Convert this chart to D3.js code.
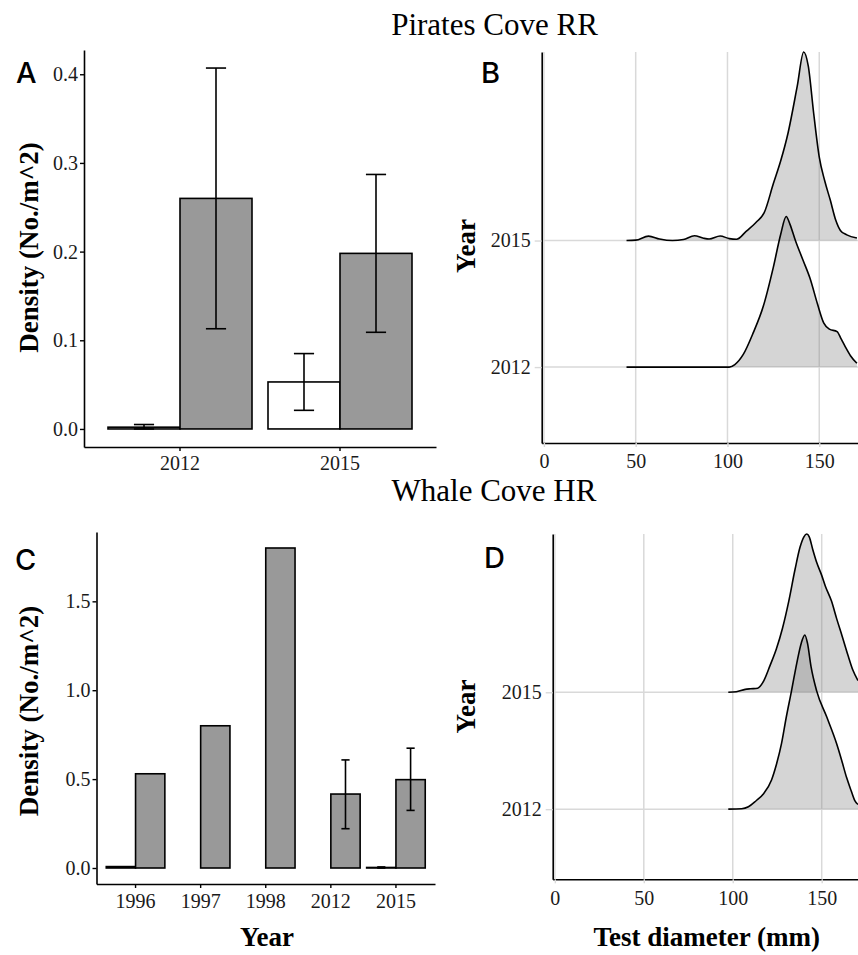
<!DOCTYPE html>
<html>
<head>
<meta charset="utf-8">
<script src="https://d3js.org/d3.v7.min.js"></script>
<style>
  body { margin: 0; background: #fff; }
</style>
</head>
<body>
<div id="placeholder"></div>
<script>
// Pirates Cove RR, densities per year (white = first group, gray = second group)
var yearsA = ["2012", "2015"]
var whiteA = [0.002, 0.053]
var whiteLoA = [0.0, 0.021]
var whiteHiA = [0.005, 0.085]
var grayA = [0.26, 0.198]
var grayLoA = [0.113, 0.109]
var grayHiA = [0.407, 0.287]

// Whale Cove HR
var yearsC = ["1996", "1997", "1998", "2012", "2015"]
var whiteC = [0.008, 0, 0, 0, 0.003]
var whiteLoC = [null, null, null, null, 0]
var whiteHiC = [null, null, null, null, 0.006]
var grayC = [0.53, 0.80, 1.80, 0.416, 0.497]
var grayLoC = [null, null, null, 0.221, 0.324]
var grayHiC = [null, null, null, 0.608, 0.674]

// ridgeline rows and x ticks
var ridgeYears = ["2012", "2015"]
var diamTicks = [0, 50, 100, 150]

// [test diameter (mm), ridge height in row units]
var ridgeB2012 = [[45, 0], [101, 0], [104, 0.02], [108.6, 0.1], [114, 0.27], [119.5, 0.48], [125, 0.79], [129, 1.05],
    [132, 1.19], [134, 1.13], [137, 1.0], [141, 0.85], [145, 0.7], [149, 0.5], [152.4, 0.35], [155.5, 0.3],
    [159.7, 0.28], [162, 0.22], [164.2, 0.16], [167, 0.09], [170.5, 0.03]]
var ridgeB2015 = [[45, 0], [50, 0.003], [57, 0.035], [63, 0.012], [70, 0], [76, 0.008], [82, 0.038], [87, 0.018],
    [90, 0.012], [96, 0.036], [101, 0.015], [105, 0.01], [110, 0.07], [116, 0.15], [120, 0.22], [125, 0.45],
    [129, 0.63], [133, 0.85], [138, 1.22], [141.5, 1.49], [144, 1.38], [147, 1.0], [150, 0.66], [153, 0.47],
    [156, 0.32], [159, 0.16], [161.5, 0.08], [165, 0.045], [170.5, 0.02]]
var ridgeD2012 = [[97.5, 0], [105, 0.003], [108.8, 0.02], [113, 0.07], [117.2, 0.13], [121.8, 0.25], [124.5, 0.38],
    [127.4, 0.56], [130, 0.78], [133, 1.01], [136, 1.25], [138.5, 1.42], [140.5, 1.49], [142, 1.42], [144, 1.22],
    [147.2, 1.01], [152.8, 0.79], [158.4, 0.56], [161, 0.43], [164, 0.27], [166.5, 0.16], [168.7, 0.07], [170.4, 0.04]]
var ridgeD2015 = [[97.5, 0], [102, 0.005], [107, 0.025], [110, 0.03], [114, 0.035], [117.5, 0.1], [121, 0.23],
    [124.5, 0.37], [128, 0.55], [131.5, 0.78], [135, 1.05], [137.8, 1.24], [140, 1.33], [141.6, 1.354], [143, 1.33],
    [145, 1.22], [147.2, 1.11], [150, 1.0], [152, 0.91], [155.5, 0.78], [158.4, 0.63], [161.5, 0.48], [164.9, 0.31],
    [167.5, 0.19], [170.4, 0.1]]

var serif = "'Liberation Serif', 'Times New Roman', serif"

var svg = d3.select("#placeholder")
    .append("svg")
    .attr("width", 858)
    .attr("height", 955)
    .style("display", "block")

function styleAxis(g, tickColor) {
    g.attr("font-family", serif).attr("font-size", 20)
    g.select(".domain").attr("stroke", "#000").attr("stroke-width", 1.6)
    g.selectAll(".tick line").attr("stroke", tickColor).attr("stroke-width", 1.4)
    g.selectAll(".tick text").attr("fill", "#1a1a1a")
}

function newBars(c) {
    var x = d3.scaleBand().domain(c.years).range([c.left, c.right]).paddingInner(0.1).paddingOuter(0.15)
    var sub = d3.scaleBand().domain(["white", "gray"]).range([0, x.bandwidth()])
    var top = d3.max(c.grayHi.concat(c.gray, c.whiteHi))
    var y = d3.scaleLinear().domain([-0.05 * top, top * 1.05]).range([c.bottom, c.top])

    var rows = []
    c.years.forEach(function (yr, i) {
        rows.push({ year: yr, key: "white", v: c.white[i], lo: c.whiteLo[i], hi: c.whiteHi[i] })
        rows.push({ year: yr, key: "gray", v: c.gray[i], lo: c.grayLo[i], hi: c.grayHi[i] })
    })

    var g = svg.append("g")

    // bars
    g.selectAll()
        .data(rows)
        .enter()
        .append("rect")
        .attr("x", function (d) { return x(d.year) + sub(d.key) })
        .attr("y", function (d) { return y(d.v) })
        .attr("width", sub.bandwidth())
        .attr("height", function (d) { return y(0) - y(d.v) })
        .attr("fill", function (d) { return d.key == "gray" ? "#999999" : "#ffffff" })
        .attr("stroke", "#000")
        .attr("stroke-width", 1.6)

    // error bars
    var errs = rows.filter(function (d) { return d.lo != null })
    var cap = sub.bandwidth() * 0.14
    var ex = function (d) { return x(d.year) + sub(d.key) + sub.bandwidth() / 2 }
    var eg = g.selectAll().data(errs).enter().append("g")
        .attr("stroke", "#000").attr("stroke-width", 1.6)
    eg.append("line")
        .attr("x1", ex).attr("x2", ex)
        .attr("y1", function (d) { return y(d.lo) })
        .attr("y2", function (d) { return y(d.hi) })
    eg.append("line")
        .attr("x1", function (d) { return ex(d) - cap }).attr("x2", function (d) { return ex(d) + cap })
        .attr("y1", function (d) { return y(d.hi) }).attr("y2", function (d) { return y(d.hi) })
    eg.append("line")
        .attr("x1", function (d) { return ex(d) - cap }).attr("x2", function (d) { return ex(d) + cap })
        .attr("y1", function (d) { return y(d.lo) }).attr("y2", function (d) { return y(d.lo) })

    // axes
    g.append("g")
        .attr("transform", "translate(0," + c.bottom + ")")
        .call(d3.axisBottom(x).tickSize(4).tickSizeOuter(0).tickPadding(c.xPad))
        .call(styleAxis, "#000")
    g.append("g")
        .attr("transform", "translate(" + c.left + ",0)")
        .call(d3.axisLeft(y).tickValues(c.yTicks).tickFormat(d3.format(".1f")).tickSize(4).tickSizeOuter(0).tickPadding(2))
        .call(styleAxis, "#000")
}

function newRidges(c) {
    var x = d3.scaleLinear().domain([-1.2, c.xMax]).range([c.left, 858])
    var ridges = c.ridges
    var top = d3.max(ridges, function (r, i) { return i + d3.max(r, function (d) { return d[1] }) })
    var y = d3.scaleLinear().domain([-0.6, top]).range([c.bottom, c.top])

    var g = svg.append("g")

    // grid
    g.selectAll()
        .data(diamTicks)
        .enter()
        .append("line")
        .attr("x1", function (d) { return x(d) }).attr("x2", function (d) { return x(d) })
        .attr("y1", c.top).attr("y2", c.bottom)
        .attr("stroke", "#d9d9d9").attr("stroke-width", 1.5)
    g.selectAll()
        .data(ridgeYears)
        .enter()
        .append("line")
        .attr("x1", c.left).attr("x2", 858)
        .attr("y1", function (d, i) { return y(i) }).attr("y2", function (d, i) { return y(i) })
        .attr("stroke", "#d9d9d9").attr("stroke-width", 1.5)

    // ridges, top row first so the lower one sits in front
    for (var i = ridges.length - 1; i >= 0; i--) {
        var area = d3.area()
            .x(function (d) { return x(d[0]) })
            .y0(y(i))
            .y1(function (d) { return y(i + d[1]) })
            .curve(d3.curveMonotoneX)
        var line = d3.line()
            .x(function (d) { return x(d[0]) })
            .y(function (d) { return y(i + d[1]) })
            .curve(d3.curveMonotoneX)
        g.append("path").datum(ridges[i])
            .attr("d", area)
            .attr("fill", "#808080").attr("fill-opacity", 0.33)
        g.append("path").datum(ridges[i])
            .attr("d", line)
            .attr("fill", "none").attr("stroke", "#000").attr("stroke-width", 1.6)
    }

    // axes
    g.append("g")
        .attr("transform", "translate(0," + c.bottom + ")")
        .call(d3.axisBottom(x).tickValues(diamTicks).tickSize(4).tickSizeOuter(0).tickPadding(c.xPad))
        .call(styleAxis, "#d9d9d9")
    g.append("g")
        .attr("transform", "translate(" + c.left + ",0)")
        .call(d3.axisLeft(y).tickValues([0, 1]).tickFormat(function (d) { return ridgeYears[d] })
            .tickSize(7).tickSizeOuter(0).tickPadding(4))
        .call(styleAxis, "#d9d9d9")
}

newBars({ years: yearsA, white: whiteA, whiteLo: whiteLoA, whiteHi: whiteHiA, gray: grayA, grayLo: grayLoA,
    grayHi: grayHiA, left: 84, right: 436, top: 50, bottom: 447, yTicks: [0, 0.1, 0.2, 0.3, 0.4], xPad: 5 })
newBars({ years: yearsC, white: whiteC, whiteLo: whiteLoC, whiteHi: whiteHiC, gray: grayC, grayLo: grayLoC,
    grayHi: grayHiC, left: 96.5, right: 435, top: 532, bottom: 884, yTicks: [0, 0.5, 1.0, 1.5], xPad: 6 })
newRidges({ ridges: [ridgeB2012, ridgeB2015], left: 541.7, xMax: 171.1, top: 52, bottom: 443, xPad: 7 })
newRidges({ ridges: [ridgeD2012, ridgeD2015], left: 552.7, xMax: 170.4, top: 534, bottom: 879.3, xPad: 7.5 })

// titles
svg.append("text").attr("x", 494.5).attr("y", 35).attr("text-anchor", "middle")
    .attr("font-family", serif).attr("font-size", 31).text("Pirates Cove RR")
svg.append("text").attr("x", 494).attr("y", 501).attr("text-anchor", "middle")
    .attr("font-family", serif).attr("font-size", 31).text("Whale Cove HR")

// axis titles
var axisTitles = [
    { t: "Density (No./m^2)", x: 38, y: 247.5, r: -90 },
    { t: "Density (No./m^2)", x: 38, y: 711, r: -90 },
    { t: "Year", x: 475, y: 246, r: -90 },
    { t: "Year", x: 475, y: 706.5, r: -90 },
    { t: "Year", x: 267, y: 946, r: 0 },
    { t: "Test diameter (mm)", x: 706.7, y: 946, r: 0 }
]
svg.selectAll()
    .data(axisTitles)
    .enter()
    .append("text")
    .attr("transform", function (d) { return "translate(" + d.x + "," + d.y + ") rotate(" + d.r + ")" })
    .attr("text-anchor", "middle")
    .attr("font-family", serif)
    .attr("font-weight", "bold")
    .attr("font-size", 27)
    .text(function (d) { return d.t })

// panel letters
var letters = [{ t: "A", x: 16, y: 83 }, { t: "B", x: 481, y: 83 }, { t: "C", x: 15, y: 570 }, { t: "D", x: 484, y: 568 }]
svg.selectAll()
    .data(letters)
    .enter()
    .append("text")
    .attr("x", function (d) { return d.x })
    .attr("y", function (d) { return d.y })
    .attr("font-family", "Inter, 'Noto Sans', sans-serif")
    .attr("font-weight", 500)
    .attr("font-size", 29)
    .text(function (d) { return d.t })
</script>
</body>
</html>
